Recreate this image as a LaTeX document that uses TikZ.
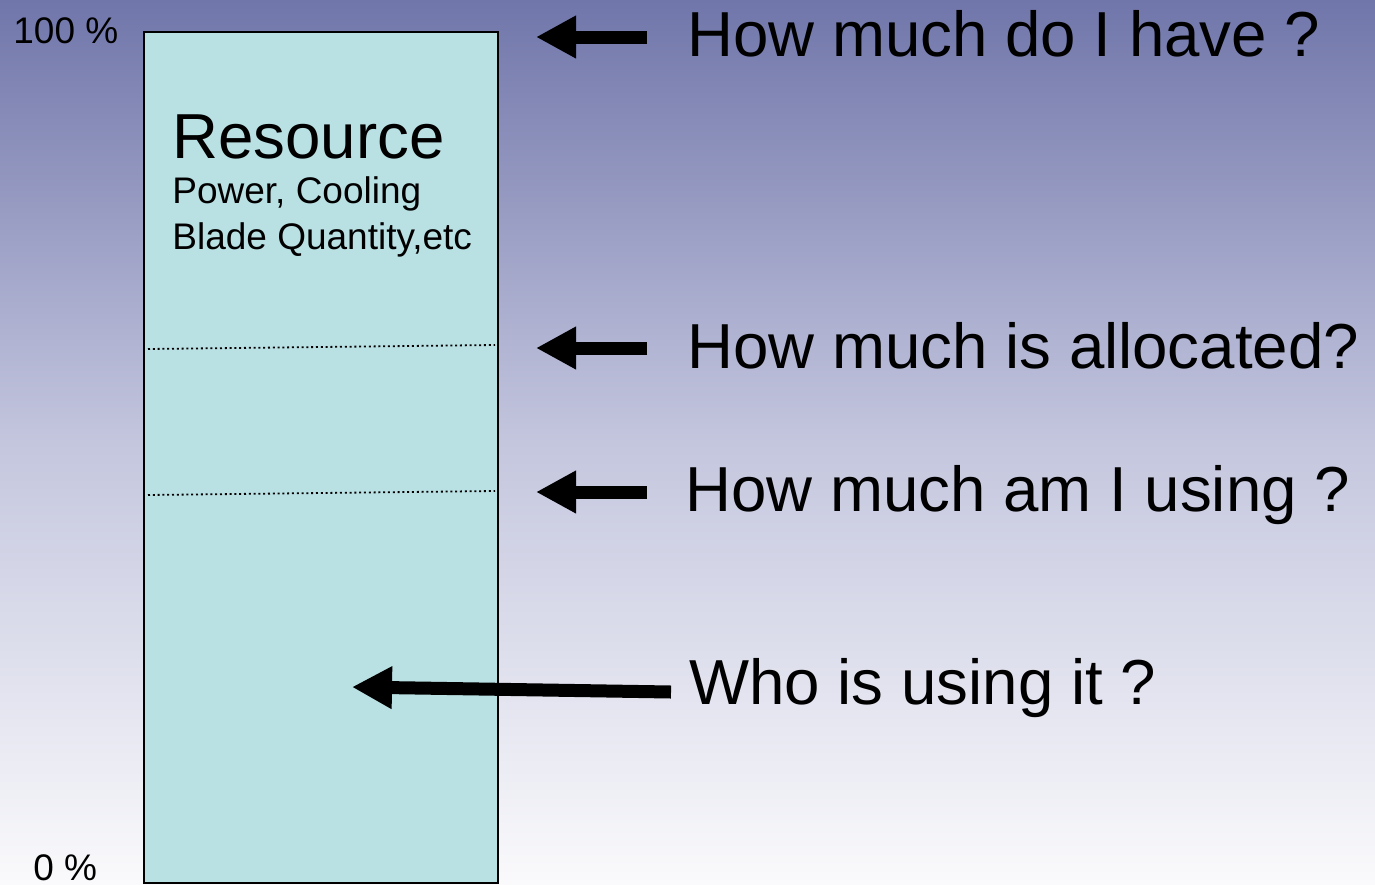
\documentclass[tikz,border=0pt]{standalone}
\usepackage{fontspec}
\setmainfont{Liberation Sans}
\usetikzlibrary{arrows.meta}
\definecolor{bgtop}{RGB}{112,118,170}
\definecolor{bgmid}{RGB}{196,198,222}
\definecolor{bgbot}{RGB}{250,250,252}
\definecolor{boxfill}{RGB}{185,224,227}
\tikzset{
  bigtext/.style={anchor=base west,inner sep=0pt,font=\fontsize{31.8}{36}\selectfont},
  smalltext/.style={anchor=base west,inner sep=0pt,font=\fontsize{18.5}{22}\selectfont},
  bigarrow/.style={line width=6.5pt,-{Triangle[length=20pt,width=20pt]}},
  dotline/.style={line width=0.9pt,dash pattern=on 1pt off 1.4pt},
  resbox/.style={draw,line width=1.2pt,fill=boxfill}
}
\begin{document}
\begin{tikzpicture}[x=0.5pt,y=-0.5pt]
\shade[top color=bgtop,bottom color=bgbot,middle color=bgmid] (0,0) rectangle (1375,884);
\useasboundingbox (0,0) rectangle (1375,884);
\node[resbox,minimum width=177pt,minimum height=425.5pt,inner sep=0pt,anchor=north west] (box) at (143,31) {};
\draw[dotline] (148,349) -- (495,345);
\draw[dotline] (148,495) -- (495,491);
\node[bigtext] (res) at (172,158) {Resource};
\node[smalltext] (pc) at (172,203) {Power, Cooling};
\node[smalltext] (bq) at (172,249) {Blade Quantity,etc};
\node[smalltext] (p100) at (13,43) {100 \%};
\node[smalltext] (p0) at (33,880) {0 \%};
\node[bigtext] (q1) at (687,56) {How much do I have ?};
\node[bigtext] (q2) at (687,368) {How much is allocated?};
\node[bigtext] (q3) at (685,511) {How much am I using ?};
\node[bigtext] (q4) at (689,704) {Who is using it ?};
\coordinate (s1) at (647,37);  \coordinate (t1) at (536,37);
\coordinate (s2) at (647,348); \coordinate (t2) at (536,348);
\coordinate (s3) at (647,492); \coordinate (t3) at (536,492);
\coordinate (s4) at (671,692); \coordinate (t4) at (352,687);
\draw[bigarrow] (s1) -- (t1);
\draw[bigarrow] (s2) -- (t2);
\draw[bigarrow] (s3) -- (t3);
\draw[bigarrow] (s4) -- (t4);
\end{tikzpicture}
\end{document}
